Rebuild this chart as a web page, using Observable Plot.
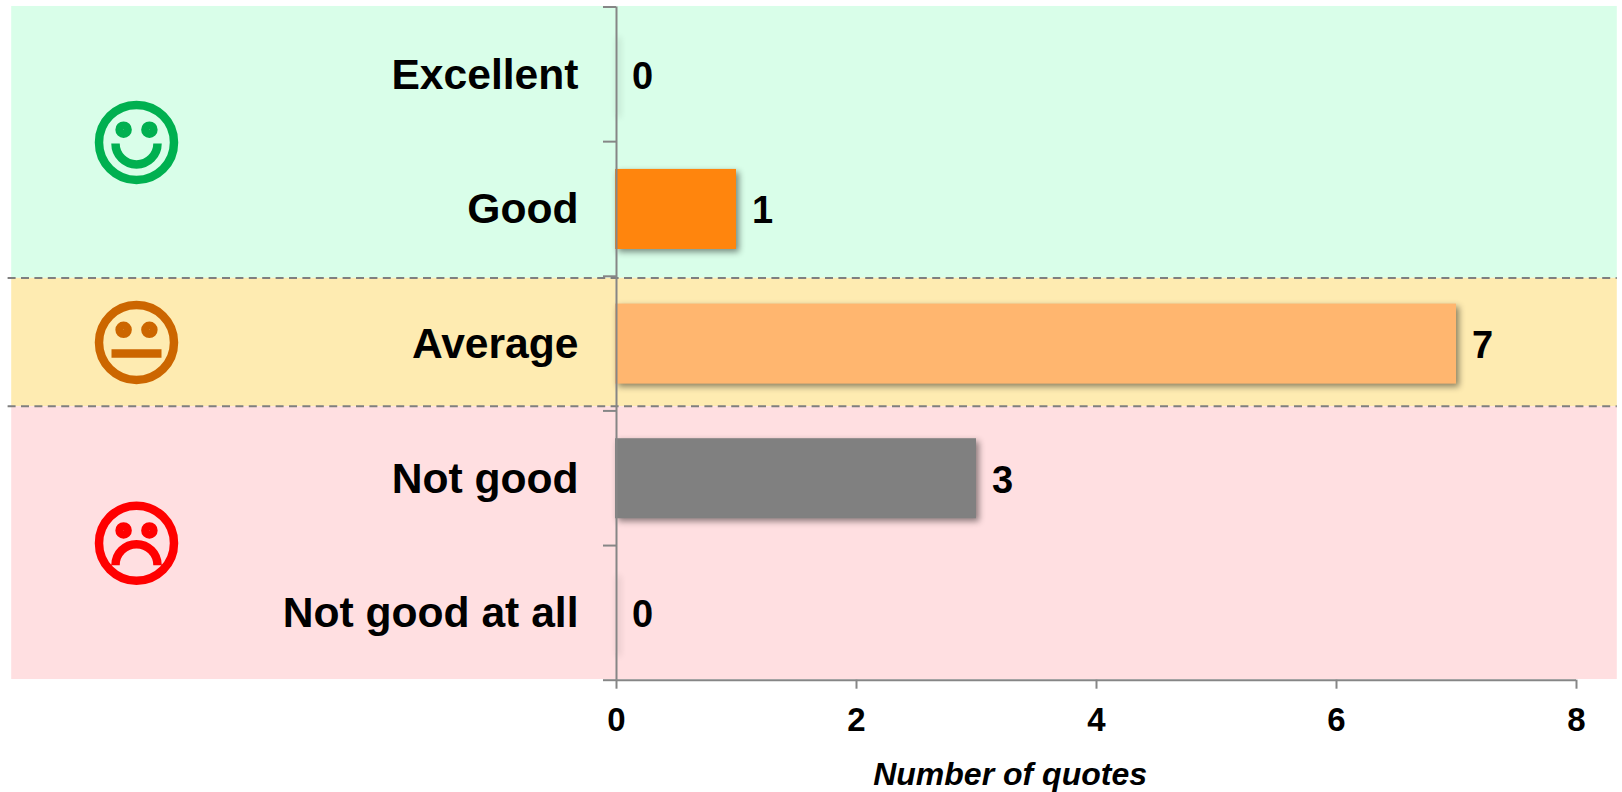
<!DOCTYPE html>
<html>
<head>
<meta charset="utf-8">
<script src="https://cdn.jsdelivr.net/npm/d3@7"></script>
<script src="https://cdn.jsdelivr.net/npm/@observablehq/plot@0.6"></script>
<style>
  html, body { margin: 0; padding: 0; background: #fff; }
  svg { display: block; }
</style>
</head>
<body>
<div id="chart"></div>
<script>
// Rating categories, top to bottom, with the number of quotes in each
const categories = ["Excellent", "Good", "Average", "Not good", "Not good at all"];
const quotes = [0, 1, 7, 3, 0];
const barColors = ["#d9fee9", "#ff850d", "#ffb66f", "#808080", "#ffdfe1"];
const xTicks = [0, 2, 4, 6, 8];
const yTicks = [0, 1, 2, 3, 4, 5];

// Mood zones behind the bars, in rows of the category axis
const zoneStarts = [-0.004, 2.015, 2.969];
const zoneEnds = [2.015, 2.969, 4.995];
const zoneColors = ["#d9fee9", "#feebb1", "#ffdfe1"];
const faceColors = ["#00b050", "#cc6600", "#ff0000"];
const dividers = [2.013, 2.966];

const rows = categories.map((name, i) => ({name, value: quotes[i], row: i, color: barColors[i]}));
const zones = zoneStarts.map((start, i) => ({start, end: zoneEnds[i], color: zoneColors[i], face: faceColors[i]}));

const axisGray = "#868686";

// Smiley faces are custom dot symbols: ring, two eyes and a mouth, all stroked
function face(drawMouth) {
  return {
    draw(ctx, size) {
      const R = Math.sqrt(size / Math.PI);
      const u = R / 37.5;
      ctx.moveTo(R, 0);
      ctx.arc(0, 0, R, 0, 2 * Math.PI);
      for (const side of [-1, 1]) {
        const ex = side * 12.9 * u, ey = -12.7 * u, er = 4 * u;
        ctx.moveTo(ex + er, ey);
        ctx.arc(ex, ey, er, 0, 2 * Math.PI);
      }
      drawMouth(ctx, u);
    }
  };
}
const smile = face((ctx, u) => {
  ctx.moveTo(-21 * u, 1 * u);
  ctx.arc(0, 1 * u, 21 * u, Math.PI, 0, true);
});
const flat = face((ctx, u) => {
  ctx.moveTo(-25 * u, 11 * u);
  ctx.lineTo(25 * u, 11 * u);
});
const frown = face((ctx, u) => {
  ctx.moveTo(-21 * u, 22 * u);
  ctx.arc(0, 22 * u, 21 * u, Math.PI, 0);
});
const faces = [smile, flat, frown];

const chart = Plot.plot({
  width: 1622,
  height: 792,
  marginTop: 6.5,
  marginBottom: 112.3,
  marginLeft: 616,
  marginRight: 46,
  style: {fontFamily: "'Liberation Sans', Arial, sans-serif", background: "#fff", overflow: "visible"},
  x: {domain: [0, 8], label: null},
  y: {domain: [0, 5], reverse: true, label: null},
  marks: [
    // Mood zones reach past the axis on both sides
    Plot.rect(zones, {x1: -5.04, x2: 8.34, y1: "start", y2: "end", fill: "color"}),
    Plot.ruleY(dividers, {x1: -5.07, x2: 8.34, stroke: "#7f7f7f", strokeWidth: 2, strokeDasharray: "8 5.4"}),

    // Bars, with a soft shadow; empty rows keep a sliver so the shadow still shows
    Plot.rect(rows, {
      x1: 0, x2: "value",
      y1: "row", y2: d => d.row + 1,
      insetTop: 27.8, insetBottom: 26.8, insetLeft: -1,
      fill: "color",
      imageFilter: "drop-shadow(3.5px 3.5px 3px rgba(0,0,0,0.45))"
    }),

    // Axes
    Plot.axisY({ticks: yTicks, tickSize: 13, tickFormat: () => "", stroke: axisGray, strokeWidth: 2, label: null}),
    Plot.axisX({ticks: xTicks, tickSize: 9, tickPadding: 18, stroke: axisGray, strokeWidth: 2, fill: "#000", fontSize: 33, fontWeight: "bold", label: null}),
    Plot.ruleX([0], {stroke: axisGray, strokeWidth: 2}),
    Plot.ruleY([5], {stroke: axisGray, strokeWidth: 2}),

    // Category names left of the axis, counts right of each bar
    Plot.text(rows, {x: 0, y: d => d.row + 0.5, text: "name", dx: -38, dy: 0.7, textAnchor: "end", fontSize: 42.6, fontWeight: "bold", fill: "#000"}),
    Plot.text(rows, {x: "value", y: d => d.row + 0.5, text: "value", dx: 15.5, dy: 2.2, textAnchor: "start", fontSize: 38, fontWeight: "bold", fill: "#000"}),

    // Axis title
    Plot.text(["Number of quotes"], {x: 3.28, y: 5, dy: 95, fontSize: 32, fontWeight: "bold", fontStyle: "italic", fill: "#000"}),

    // One face per mood zone, centred on its zone
    ...zones.map((z, i) => Plot.dot([z], {
      x: () => -4, y: d => (d.start + d.end) / 2,
      r: 37.5, symbol: faces[i], fill: "none", stroke: "face", strokeWidth: 8.5
    }))
  ]
});
document.getElementById("chart").append(chart);
</script>
</body>
</html>
